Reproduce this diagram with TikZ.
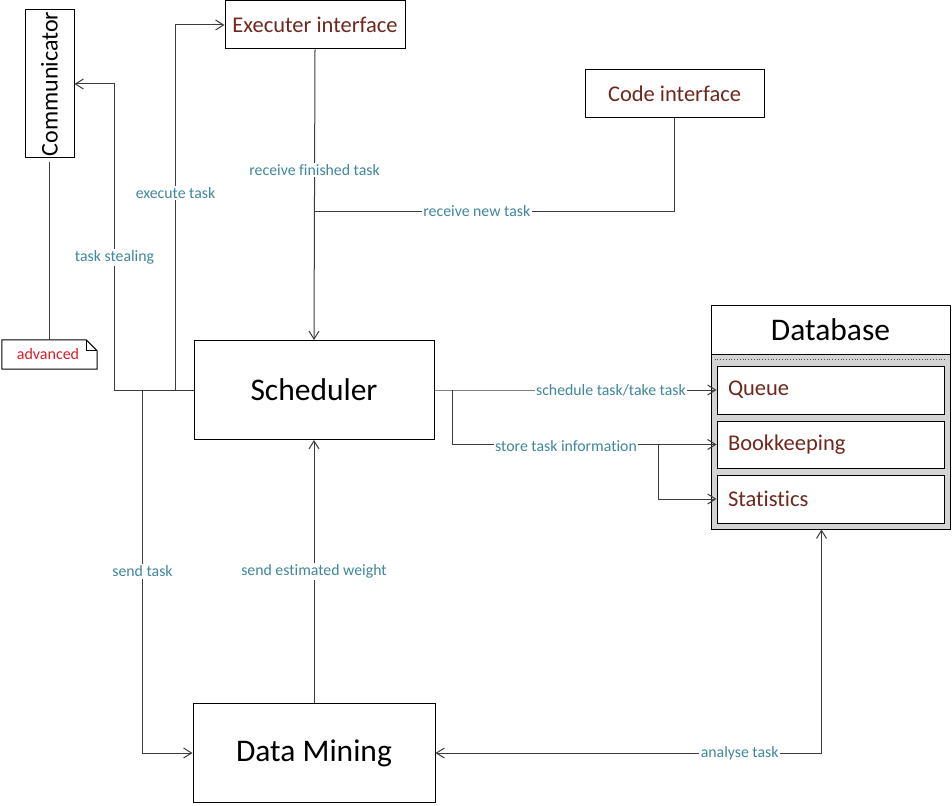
\documentclass[tikz,border=0pt]{standalone}
\usepackage{fontspec}
\setmainfont{Carlito}[Ligatures={NoCommon,NoRare}]
\usetikzlibrary{arrows.meta,calc}
\definecolor{lblc}{RGB}{64,135,155}
\definecolor{boxtxt}{RGB}{110,40,30}
\definecolor{dbgray}{RGB}{212,212,212}
\definecolor{advred}{RGB}{220,30,40}
\definecolor{linec}{RGB}{60,60,60}
\begin{document}
\begin{tikzpicture}[x=1pt,y=-1pt,
  box/.style={draw=black,line width=1pt,fill=white,inner sep=0pt},
  bigbox/.style={box,minimum width=240pt,minimum height=99pt,font=\fontsize{31.5}{34}\selectfont},
  ifbox/.style={box,minimum width=180pt,minimum height=48pt,text=boxtxt,font=\fontsize{22.5}{26}\selectfont},
  dbitem/.style={box,text width=205pt,align=left,inner xsep=11pt,minimum height=48pt,text=boxtxt,font=\fontsize{22.5}{26}\selectfont},
  lbl/.style={fill=white,text=lblc,inner sep=1.5pt,font=\fontsize{15.8}{18}\selectfont},
  conn/.style={draw=linec,line width=1pt},
  arr/.style={conn,-{Straight Barb[length=8pt,width=10pt]}},
  biarr/.style={conn,{Straight Barb[length=8pt,width=10pt]}-{Straight Barb[length=8pt,width=10pt]}}]
\useasboundingbox (0,0) rectangle (952,805);
\fill[white] (0,0) rectangle (952,805);

% main boxes
\node[bigbox] (sched) at (314,390) {Scheduler};
\node[bigbox,minimum width=242pt] (dm) at (314,753) {Data Mining};
\node[ifbox] (exec) at (315,25) {Executer interface};
\node[ifbox,minimum width=179pt] (code) at (674.5,94) {Code interface};
\node[box,rotate=90,minimum width=148pt,minimum height=49pt,font=\fontsize{24}{27}\selectfont] (comm) at (49.5,84) {Communicator};

% note
\node[inner sep=0pt,minimum width=95pt,minimum height=29pt,text=advred,font=\fontsize{16}{18}\selectfont] (adv) at (48,354.5) {advanced};
\draw[line width=1pt] ($(adv.north west)+(1.5,0)$) -- ($(adv.north east)+(-9.5,0)$) -- ($(adv.north east)+(1.5,11)$) -- ($(adv.south east)+(1.5,0)$) -- ($(adv.south west)+(1.5,0)$) -- cycle;
\draw[line width=0.8pt] ($(adv.north east)+(-9.5,0)$) -- ++(0,11) -- ++(11,0);

% database
\node[draw=black,line width=1pt,fill=dbgray,minimum width=239pt,minimum height=175pt,inner sep=0pt] (dbb) at (830.5,441.5) {};
\node[box,minimum width=239pt,minimum height=49pt,font=\fontsize{31.5}{34}\selectfont] (dbh) at (830.5,329.5) {Database};
\draw[dotted,line width=0.8pt,draw=black!70] ($(dbb.north west)+(4,6)$) -- ($(dbb.north east)+(-4,6)$);
\node[dbitem] (queue) at (830.5,390) {Queue};
\node[dbitem,minimum height=47pt] (book) at (830.5,444.5) {Bookkeeping};
\node[dbitem] (stat) at (830.5,499) {Statistics};

% connectors
\draw[conn,shorten <=4pt] (comm.west) -- (comm.west |- adv.north);
\draw[arr] (exec.south) -- node[lbl,pos=0.416]{receive finished task} (sched.north);
\coordinate (jn) at (315,211);
\draw[conn] (code.south) |- node[lbl,pos=0.775]{receive new task} (jn);
\draw[arr] (sched.west) -- ++(-79,0) |- node[lbl,pos=0.217]{task stealing} (comm.south);
\coordinate (ex0) at ($(sched.west)+(-18,0)$);
\draw[arr] (ex0) |- node[lbl,pos=0.27]{execute task} (exec.west);
\coordinate (sd0) at ($(sched.west)+(-51,0)$);
\draw[arr] (sd0) |- node[lbl,pos=0.25]{send task} (dm.west);
\draw[arr] (dm.north) -- node[lbl,pos=0.5]{send estimated weight} (sched.south);
\draw[arr] (sched.east) -- ++(18,0) coordinate (sj) -- node[lbl,pos=0.6]{schedule task/take task} (queue.west);
\draw[arr] (sj) -- (sj |- book.west) -- coordinate[pos=0.781] (bj) node[lbl,pos=0.43,yshift=-2pt]{store task information} (book.west);
\draw[arr] (bj) |- (stat.west);
\coordinate (an0) at ($(dbb.south west)+(111,0)$);
\draw[biarr] (an0) |- node[lbl,pos=0.606]{analyse task} (dm.east);
\end{tikzpicture}
\end{document}
